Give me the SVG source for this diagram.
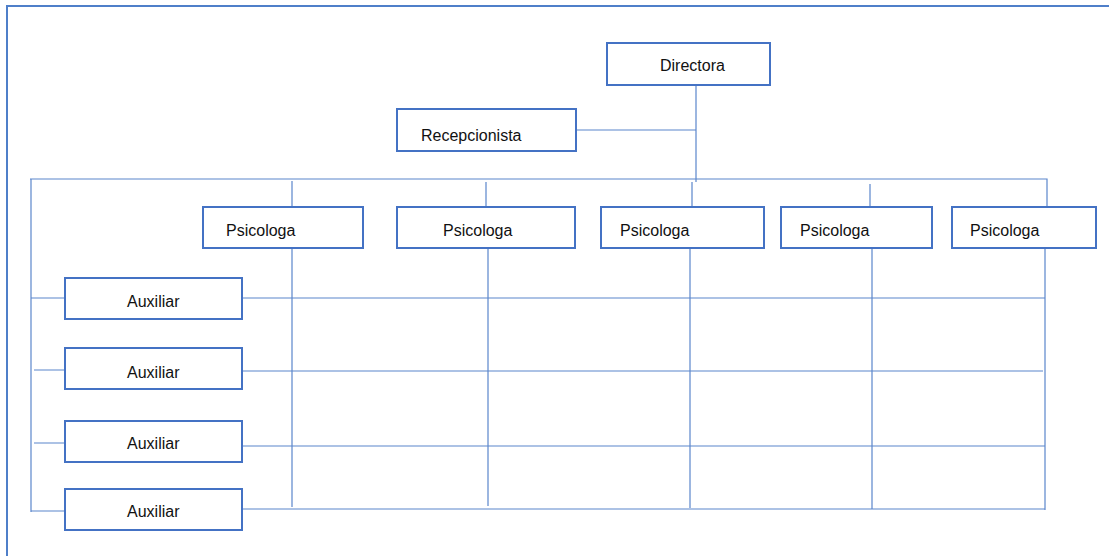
<svg xmlns="http://www.w3.org/2000/svg" width="1109" height="556" viewBox="0 0 1109 556">
<style>
.frame{fill:none;stroke:#4f7fc9;stroke-width:2}
.box{fill:#fff;stroke:#4472c4;stroke-width:2}
.ln{fill:none;stroke:#5b86cc;stroke-width:1.2}
text{font-family:"Liberation Sans",Arial,sans-serif;font-size:16px;fill:#111}
</style>
<rect width="1109" height="556" fill="#fff"/>
<path class="frame" d="M7,560 V6 H1115"/>
<g id="connectors">
<path class="ln" d="M696,85 V182 M576,130 H696"/>
<path class="ln" d="M30,179 H1047 V207"/>
<path class="ln" d="M31,179 V512"/>
<path class="ln" d="M292,181 V207 M486,182 V207 M692,182 V207 M870,184 V207"/>
<path class="ln" d="M292,248 V507 M488,248 V506 M690,248 V508 M872,248 V509 M1045,248 V510"/>
<path class="ln" d="M242,298 H1045 M242,371 H1043 M242,446 H1045 M242,509 H1045"/>
<path class="ln" d="M31,298 H65 M34,370 H65 M34,443 H65 M31,511 H65"/>
</g>
<g id="directora"><rect class="box" x="607" y="43" width="163" height="42"/><text x="660" y="71">Directora</text></g>
<g id="recepcionista"><rect class="box" x="397" y="109" width="179" height="42"/><text x="421" y="141">Recepcionista</text></g>
<g id="psicologa1"><rect class="box" x="203" y="207" width="160" height="41"/><text x="226" y="236">Psicologa</text></g>
<g id="psicologa2"><rect class="box" x="397" y="207" width="178" height="41"/><text x="443" y="236">Psicologa</text></g>
<g id="psicologa3"><rect class="box" x="601" y="207" width="163" height="41"/><text x="620" y="236">Psicologa</text></g>
<g id="psicologa4"><rect class="box" x="781" y="207" width="151" height="41"/><text x="800" y="236">Psicologa</text></g>
<g id="psicologa5"><rect class="box" x="952" y="207" width="144" height="41"/><text x="970" y="236">Psicologa</text></g>
<g id="auxiliar1"><rect class="box" x="65" y="278" width="177" height="41"/><text x="127" y="307">Auxiliar</text></g>
<g id="auxiliar2"><rect class="box" x="65" y="348" width="177" height="41"/><text x="127" y="378">Auxiliar</text></g>
<g id="auxiliar3"><rect class="box" x="65" y="421" width="177" height="41"/><text x="127" y="449">Auxiliar</text></g>
<g id="auxiliar4"><rect class="box" x="65" y="489" width="177" height="41"/><text x="127" y="517">Auxiliar</text></g>
</svg>
